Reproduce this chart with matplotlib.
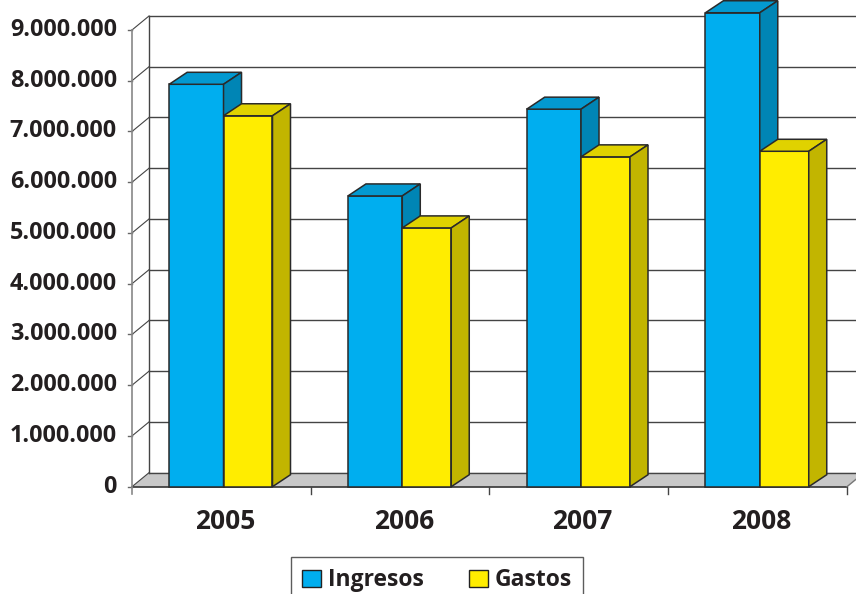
import matplotlib.pyplot as plt
from matplotlib.patches import Polygon, Patch

# Data
years = ['2005', '2006', '2007', '2008']
ingresos = [7930000, 5730000, 7440000, 9340000]
gastos = [7310000, 5100000, 6500000, 6610000]
yticks = [0, 1000000, 2000000, 3000000, 4000000, 5000000, 6000000, 7000000, 8000000, 9000000]


def fmt(v):
    return f"{v:,}".replace(',', '.')


plt.rcParams['font.family'] = ['Open Sans', 'DejaVu Sans']

fig = plt.figure(figsize=(8.56, 5.94), dpi=100)
W, H = 856, 594
# front plane: x 132..847 px, y 486.7..30 px
ax = fig.add_axes([132 / W, (H - 486.7) / H, (847 - 132) / W, (486.7 - 30) / H])
ax.set_xlim(0, 4)
ax.set_ylim(0, 9000000)
ax.axis('off')

# depth offsets in data units
wdx, wdy = 17 / 178.75, 14 * 9000000 / 456.7   # wall depth
bdx, bdy = 18 / 178.75, 12 * 9000000 / 456.7   # bar depth
xmax = 4

# floor
ax.add_patch(Polygon([(0, 0), (xmax, 0), (xmax + wdx, wdy), (wdx, wdy)],
                     closed=True, facecolor='#c8c8c8', edgecolor='none', clip_on=False, zorder=1))
ax.plot([0, xmax], [0, 0], color='#333333', lw=1.2, clip_on=False, zorder=2)
ax.plot([xmax, xmax + wdx], [0, wdy], color='#777777', lw=1, clip_on=False, zorder=2)

# back wall gridlines and side wall diagonals
for t in yticks:
    ax.plot([wdx, xmax + 0.2], [t + wdy, t + wdy], color='#444444', lw=1, clip_on=False, zorder=1)
    ax.plot([0, wdx], [t, t + wdy], color='#444444', lw=0.8, clip_on=False, zorder=1)
    ax.plot([-0.022, 0], [t, t], color='#666666', lw=1, clip_on=False, zorder=2)
    ax.text(-0.084, t, fmt(t), ha='right', va='center', fontsize=16.8,
            fontweight='bold', color='#231f20')
ax.plot([wdx, wdx], [wdy, 9000000 + wdy], color='#444444', lw=1, clip_on=False, zorder=1)
ax.plot([0, 0], [-150000, 9000000], color='#888888', lw=1.2, clip_on=False, zorder=2)

# category ticks and labels
for i in range(1, 5):
    ax.plot([i, i], [0, -150000], color='#444444', lw=1, clip_on=False, zorder=2)
for i, y in enumerate(years):
    ax.text(i + 0.52, -680000, y, ha='center', va='center', fontsize=19,
            fontweight='bold', color='#231f20')


def bar3d(x0, x1, h, front, top, side):
    ec = '#2a2a2a'
    ax.add_patch(Polygon([(x0, 0), (x1, 0), (x1, h), (x0, h)], closed=True,
                         facecolor=front, edgecolor=ec, lw=1.1, zorder=3, clip_on=False))
    ax.add_patch(Polygon([(x0, h), (x1, h), (x1 + bdx, h + bdy), (x0 + bdx, h + bdy)], closed=True,
                         facecolor=top, edgecolor=ec, lw=1.1, zorder=3, clip_on=False))
    ax.add_patch(Polygon([(x1, 0), (x1 + bdx, bdy), (x1 + bdx, h + bdy), (x1, h)], closed=True,
                         facecolor=side, edgecolor=ec, lw=1.1, zorder=3, clip_on=False))


for i in range(len(years)):
    bar3d(i + 0.208, i + 0.512, ingresos[i], '#00aeef', '#0399d0', '#0085b5')
    bar3d(i + 0.512, i + 0.786, gastos[i], '#ffed00', '#e0d200', '#c2b500')

# legend
handles = [Patch(facecolor='#00aeef', edgecolor='#222222', label='Ingresos'),
           Patch(facecolor='#ffed00', edgecolor='#222222', label='Gastos')]
leg = fig.legend(handles=handles, loc='upper center', bbox_to_anchor=(437 / W, (H - 557) / H),
                 ncol=2, frameon=True, fancybox=False, edgecolor='#333333',
                 prop={'weight': 'bold', 'size': 16.5}, handlelength=0.8, handleheight=0.8,
                 handletextpad=0.3, columnspacing=2.0, borderpad=0.5, borderaxespad=0)
leg.get_frame().set_linewidth(1)
for t in leg.get_texts():
    t.set_color('#231f20')

fig.savefig('out.png', dpi=100)
